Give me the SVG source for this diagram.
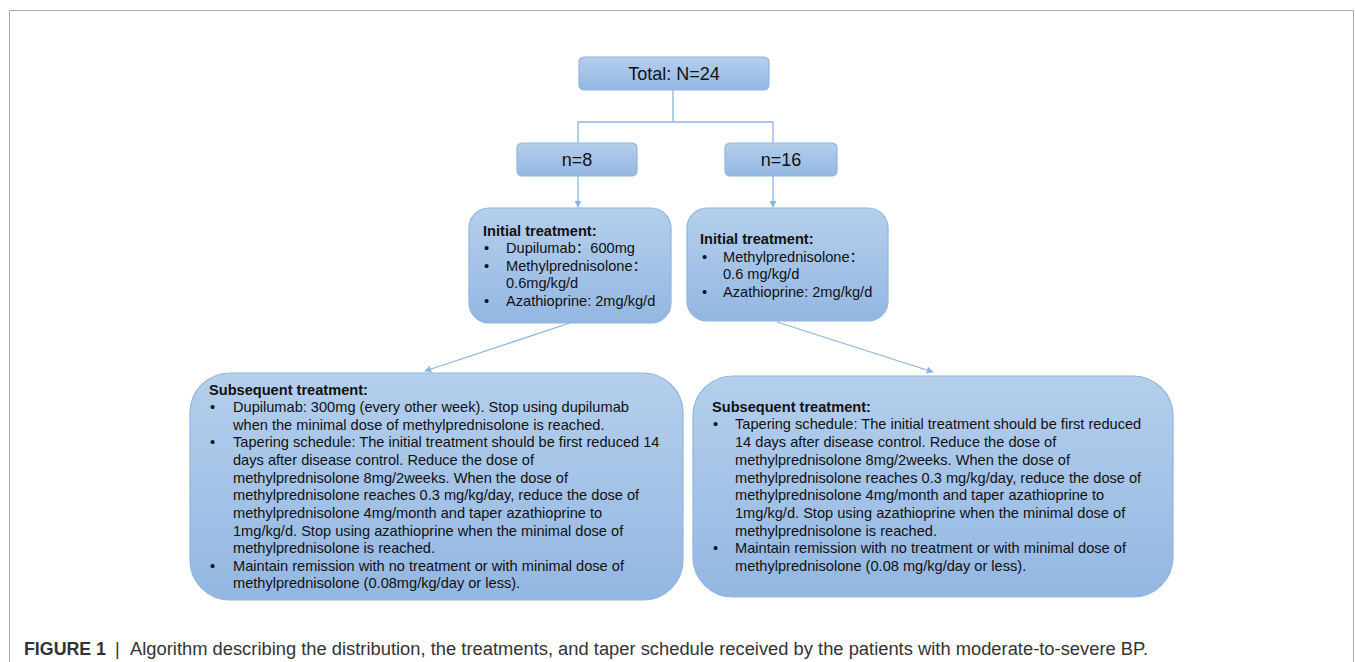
<svg xmlns="http://www.w3.org/2000/svg" width="1355" height="662" viewBox="0 0 1355 662">
<defs>
<linearGradient id="g" x1="0" y1="0" x2="0" y2="1">
<stop offset="0" stop-color="#b5cfec"/>
<stop offset="1" stop-color="#93b7e2"/>
</linearGradient>
<marker id="ah" viewBox="0 0 10 10" refX="9" refY="5" markerWidth="7" markerHeight="7" markerUnits="userSpaceOnUse" orient="auto">
<path d="M0,0 L10,5 L0,10 z" fill="#8db4e2"/>
</marker>
<style>
.box{fill:url(#g);stroke:#8fb5e2;stroke-width:1.2}
.t{font-family:"Liberation Sans","Noto Sans CJK SC",Arial,sans-serif;fill:#111}
.lbl{font-size:18px;text-anchor:middle}
.b{font-size:14.6px}
.h{font-weight:bold}
.c{fill:none;stroke:#8db4e2;stroke-width:1.3}
.cap{font-family:"Liberation Sans",Arial,sans-serif;font-size:18px;fill:#333}
</style>
</defs>
<rect width="1355" height="662" fill="#fff"/>
<path d="M9.5,662 V10.5 H1353.5 V662" fill="none" stroke="#aaa" stroke-width="1"/>
<g id="connectors">
<path class="c" d="M673,90 V122 M578,143 V122 H773 V143"/>
<path class="c" d="M578,176 V207" marker-end="url(#ah)"/>
<path class="c" d="M773,176 V207" marker-end="url(#ah)"/>
<path class="c" d="M570,323 L425,371" marker-end="url(#ah)"/>
<path class="c" d="M777,322 L933,372" marker-end="url(#ah)"/>
</g>
<g id="total">
<rect class="box" x="579" y="57" width="190" height="33" rx="5"/>
<text class="t lbl" x="674" y="80">Total: N=24</text>
</g>
<g id="n8">
<rect class="box" x="517" y="143" width="120" height="33" rx="5"/>
<text class="t lbl" x="577" y="166">n=8</text>
</g>
<g id="n16">
<rect class="box" x="725" y="143" width="112" height="33" rx="5"/>
<text class="t lbl" x="781" y="166">n=16</text>
</g>
<g id="init-left">
<rect class="box" x="469" y="208" width="202" height="115" rx="20"/>
<text class="t b h" x="483" y="236">Initial treatment:</text>
<text class="t b" x="484" y="253">•</text><text class="t b" x="506" y="253">Dupilumab：600mg</text>
<text class="t b" x="484" y="271">•</text><text class="t b" x="506" y="271">Methylprednisolone：</text>
<text class="t b" x="506" y="288">0.6mg/kg/d</text>
<text class="t b" x="484" y="306">•</text><text class="t b" x="506" y="306">Azathioprine: 2mg/kg/d</text>
</g>
<g id="init-right">
<rect class="box" x="687" y="208" width="201" height="113" rx="20"/>
<text class="t b h" x="700" y="244">Initial treatment:</text>
<text class="t b" x="702" y="262">•</text><text class="t b" x="723" y="262">Methylprednisolone：</text>
<text class="t b" x="723" y="279">0.6 mg/kg/d</text>
<text class="t b" x="702" y="297">•</text><text class="t b" x="723" y="297">Azathioprine: 2mg/kg/d</text>
</g>
<g id="sub-left">
<rect class="box" x="190" y="373" width="493" height="227" rx="40"/>
<text class="t b h" x="209" y="395">Subsequent treatment:</text>
<text class="t b" x="210" y="412">•</text><text class="t b" x="233" y="412">Dupilumab: 300mg (every other week). Stop using dupilumab</text>
<text class="t b" x="233" y="430">when the minimal dose of methylprednisolone is reached.</text>
<text class="t b" x="210" y="447">•</text><text class="t b" x="233" y="447">Tapering schedule: The initial treatment should be first reduced 14</text>
<text class="t b" x="233" y="465">days after disease control. Reduce the dose of</text>
<text class="t b" x="233" y="483">methylprednisolone 8mg/2weeks. When the dose of</text>
<text class="t b" x="233" y="500">methylprednisolone reaches 0.3 mg/kg/day, reduce the dose of</text>
<text class="t b" x="233" y="518">methylprednisolone 4mg/month and taper azathioprine to</text>
<text class="t b" x="233" y="536">1mg/kg/d. Stop using azathioprine when the minimal dose of</text>
<text class="t b" x="233" y="553">methylprednisolone is reached.</text>
<text class="t b" x="210" y="571">•</text><text class="t b" x="233" y="571">Maintain remission with no treatment or with minimal dose of</text>
<text class="t b" x="233" y="588">methylprednisolone (0.08mg/kg/day or less).</text>
</g>
<g id="sub-right">
<rect class="box" x="693" y="376" width="480" height="221" rx="40"/>
<text class="t b h" x="712" y="412">Subsequent treatment:</text>
<text class="t b" x="713" y="429">•</text><text class="t b" x="735" y="429">Tapering schedule: The initial treatment should be first reduced</text>
<text class="t b" x="735" y="447">14 days after disease control. Reduce the dose of</text>
<text class="t b" x="735" y="465">methylprednisolone 8mg/2weeks. When the dose of</text>
<text class="t b" x="735" y="483">methylprednisolone reaches 0.3 mg/kg/day, reduce the dose of</text>
<text class="t b" x="735" y="500">methylprednisolone 4mg/month and taper azathioprine to</text>
<text class="t b" x="735" y="518">1mg/kg/d. Stop using azathioprine when the minimal dose of</text>
<text class="t b" x="735" y="536">methylprednisolone is reached.</text>
<text class="t b" x="713" y="553">•</text><text class="t b" x="735" y="553">Maintain remission with no treatment or with minimal dose of</text>
<text class="t b" x="735" y="571">methylprednisolone (0.08 mg/kg/day or less).</text>
</g>
<g id="caption">
<text class="cap" x="24" y="655" font-weight="bold" fill="#111" textLength="82" lengthAdjust="spacingAndGlyphs">FIGURE 1</text>
<text class="cap" x="115" y="655" fill="#888" font-weight="300">|</text>
<text class="cap" x="130" y="655" textLength="1018" lengthAdjust="spacingAndGlyphs">Algorithm describing the distribution, the treatments, and taper schedule received by the patients with moderate-to-severe BP.</text>
</g>
</svg>
